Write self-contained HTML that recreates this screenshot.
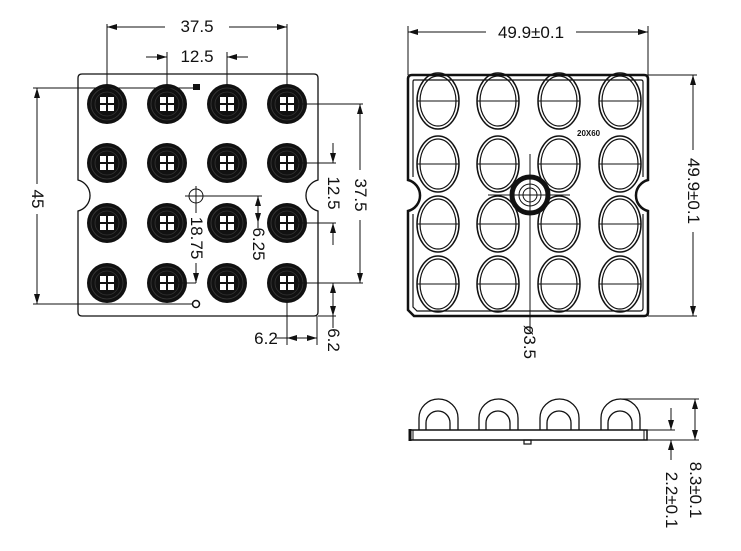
<!DOCTYPE html>
<html><head><style>html,body{margin:0;padding:0;background:#fff}svg{display:block}</style></head><body>
<svg width="741" height="551" viewBox="0 0 741 551" xmlns="http://www.w3.org/2000/svg" font-family="Liberation Sans, sans-serif" font-size="15" fill="none" stroke="#111">
<defs>
<g id="led">
<circle r="20" fill="#111" stroke="none"/>
<circle r="16" stroke="#3a3a3a" stroke-width="0.8"/>
<circle r="12" stroke="#333" stroke-width="0.8"/>
<rect x="-7" y="-7" width="14" height="14" fill="#fff" stroke="none"/>
<path d="M0-7V7M-7 0H7" stroke="#111" stroke-width="2"/>
</g>
<g id="lens">
<ellipse rx="21" ry="28" stroke-width="1.5"/>
<ellipse rx="18" ry="25" stroke-width="1.2"/>
<path d="M-21 0H21" stroke-width="1"/>
</g>
<marker id="a" viewBox="0 0 10 6" refX="10" refY="3" markerWidth="10" markerHeight="6" orient="auto-start-reverse" markerUnits="userSpaceOnUse"><path d="M0 0L10 3L0 6z" fill="#111" stroke="none"/></marker>
</defs>

<!-- Left board -->
<path d="M82 74H314Q318 74 318 78V180A16 16 0 0 0 318 211V312Q318 316 314 316H82Q78 316 78 312V211A16 16 0 0 0 78 180V78Q78 74 82 74Z" stroke-width="1.3"/>
<g>
<use href="#led" x="107" y="104"/><use href="#led" x="167" y="104"/><use href="#led" x="227" y="104"/><use href="#led" x="287" y="104"/>
<use href="#led" x="107" y="163"/><use href="#led" x="167" y="163"/><use href="#led" x="227" y="163"/><use href="#led" x="287" y="163"/>
<use href="#led" x="107" y="223"/><use href="#led" x="167" y="223"/><use href="#led" x="227" y="223"/><use href="#led" x="287" y="223"/>
<use href="#led" x="107" y="283"/><use href="#led" x="167" y="283"/><use href="#led" x="227" y="283"/><use href="#led" x="287" y="283"/>
</g>
<rect x="193" y="84" width="7" height="6" fill="#111" stroke="none"/>
<circle cx="196" cy="304" r="3.5" stroke-width="1.5"/>
<circle cx="196" cy="196" r="7" stroke-width="1"/>
<g stroke-width="1">
<path d="M107 24V86M287 24V86"/>
<path d="M107 27H165M229 27H287" marker-start="url(#a)" marker-end="url(#a)"/>
<path d="M167 52V86M227 52V86"/>
<path d="M146 57H167" marker-end="url(#a)"/><path d="M248 57H227" marker-end="url(#a)"/>
<path d="M33 88H193M33 304H193"/>
<path d="M37 88V184M37 214V304" marker-start="url(#a)" marker-end="url(#a)"/>
<path d="M287 104H363M287 283H363"/>
<path d="M360 104V170M360 220V283" marker-start="url(#a)" marker-end="url(#a)"/>
<path d="M287 163H336M287 223H336"/>
<path d="M333 143V163" marker-end="url(#a)"/><path d="M333 245V223" marker-end="url(#a)"/>
<path d="M185 196H262M196 186V206"/>
<path d="M196 206V213M196 263V283" /><path d="M196 270V283" marker-end="url(#a)"/>
<path d="M167 283H196"/>
<path d="M258 196V228" marker-start="url(#a)"/>
<path d="M258 196V223" marker-end="url(#a)"/>
<path d="M287 300V345M317 316V345"/>
<path d="M287 338H317" marker-start="url(#a)" marker-end="url(#a)"/>
<path d="M276 338H287"/>
<path d="M300 283H336M318 316H336"/>
<path d="M333 283V316" marker-start="url(#a)" marker-end="url(#a)"/>
<path d="M333 316V328"/>
</g>
<g fill="#111" stroke="none">
<text x="197" y="32" text-anchor="middle" font-size="17">37.5</text>
<text x="197" y="62" text-anchor="middle" font-size="17">12.5</text>
<text x="266" y="344" text-anchor="middle" font-size="17">6.2</text>
<text transform="translate(32,199) rotate(90)" text-anchor="middle" font-size="17">45</text>
<text transform="translate(355,195) rotate(90)" text-anchor="middle" font-size="17">37.5</text>
<text transform="translate(328,193) rotate(90)" text-anchor="middle" font-size="17">12.5</text>
<text transform="translate(191,238) rotate(90)" text-anchor="middle" font-size="17">18.75</text>
<text transform="translate(253,244) rotate(90)" text-anchor="middle" font-size="17">6.25</text>
<text transform="translate(328,340) rotate(90)" text-anchor="middle" font-size="17">6.2</text>
</g>

<!-- Right top view -->
<path d="M412 75H644Q648 75 648 79V180A16 16 0 0 0 648 211V312Q648 316 644 316H414L408 310V211A16 16 0 0 0 408 180V79Q408 75 412 75Z" stroke-width="2.5"/>
<path d="M414 80H641Q643 80 643 82V177M643 214V308Q643 311 640 311H417L413 307V214M413 177V82Q413 80 414 80" stroke-width="1.2"/>
<g>
<use href="#lens" x="438" y="101"/><use href="#lens" x="498" y="101"/><use href="#lens" x="559" y="101"/><use href="#lens" x="620" y="101"/>
<use href="#lens" x="438" y="164"/><use href="#lens" x="498" y="164"/><use href="#lens" x="559" y="164"/><use href="#lens" x="620" y="164"/>
<use href="#lens" x="438" y="224"/><use href="#lens" x="498" y="224"/><use href="#lens" x="559" y="224"/><use href="#lens" x="620" y="224"/>
<use href="#lens" x="438" y="284"/><use href="#lens" x="498" y="284"/><use href="#lens" x="559" y="284"/><use href="#lens" x="620" y="284"/>
</g>
<circle cx="530" cy="195" r="18" fill="#fff" stroke-width="5"/>
<circle cx="530" cy="195" r="11" stroke-width="1"/>
<circle cx="530" cy="195" r="7" stroke-width="1"/>
<path d="M530 154V332M488 195H570" stroke-width="1"/>
<text x="577" y="136" font-size="8" fill="#111" stroke="none" font-weight="bold">20X60</text>
<g stroke-width="1">
<path d="M408 26V75M648 26V75"/>
<path d="M408 32H486M576 32H648" marker-start="url(#a)" marker-end="url(#a)"/>
<path d="M648 75H697M648 316H697"/>
<path d="M693 75V150M693 232V316" marker-start="url(#a)" marker-end="url(#a)"/>
</g>
<g fill="#111" stroke="none">
<text x="531" y="38" text-anchor="middle" font-size="17">49.9±0.1</text>
<text transform="translate(688,191) rotate(90)" text-anchor="middle" font-size="17">49.9±0.1</text>
<text transform="translate(524,342) rotate(90)" text-anchor="middle" font-size="17">ø3.5</text>
</g>

<!-- Side view -->
<g stroke-width="1.3">
<path d="M419 430V418A19.5 19 0 0 1 458 418V430"/>
<path d="M426 430V423A12 12 0 0 1 450 423V430"/>
<path d="M479 430V418A19.5 19 0 0 1 518 418V430"/>
<path d="M486 430V423A12 12 0 0 1 510 423V430"/>
<path d="M540 430V418A19.5 19 0 0 1 579 418V430"/>
<path d="M547 430V423A12 12 0 0 1 571 423V430"/>
<path d="M601 430V418A19.5 19 0 0 1 640 418V430"/>
<path d="M608 430V423A12 12 0 0 1 632 423V430"/>
<path d="M410 430H647V440H410Z" stroke-width="1.5"/>
<path d="M410 429V441" stroke-width="3"/>
<path d="M413 430V440M644 430V440" stroke-width="1"/>
<rect x="524" y="440" width="7" height="4" stroke-width="1.2"/>
</g>
<g stroke-width="1">
<path d="M620 399H699M647 430H675M620 440H699"/>
<path d="M695 399V440" marker-start="url(#a)" marker-end="url(#a)"/>
<path d="M671 408V430" marker-end="url(#a)"/><path d="M671 460V440" marker-end="url(#a)"/>
</g>
<g fill="#111" stroke="none">
<text transform="translate(690,490) rotate(90)" text-anchor="middle" font-size="17">8.3±0.1</text>
<text transform="translate(666,500) rotate(90)" text-anchor="middle" font-size="17">2.2±0.1</text>
</g>
</svg>
</body></html>
